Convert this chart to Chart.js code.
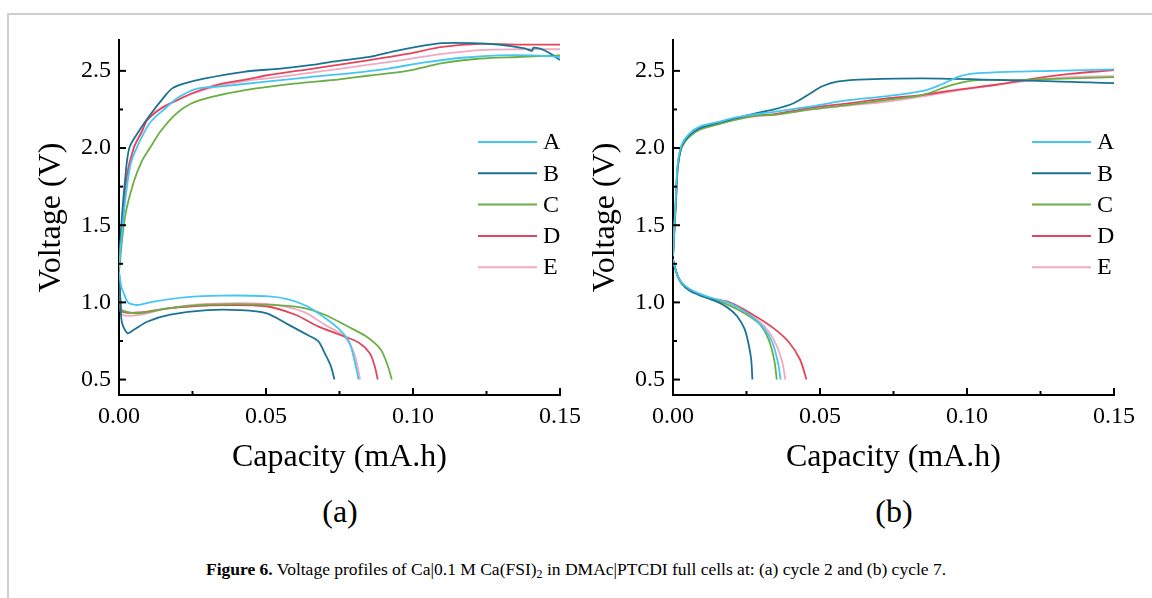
<!DOCTYPE html>
<html>
<head>
<meta charset="utf-8">
<script src="https://cdn.jsdelivr.net/npm/chart.js@4.4.0/dist/chart.umd.min.js"></script>
<style>
  body { margin: 0; width: 1152px; height: 598px; background: #fff; position: relative; overflow: hidden;
         font-family: "Liberation Serif", "Times New Roman", serif; color: #000; }
  .frame { position: absolute; left: 7px; top: 13px; width: 1160px; height: 600px;
           border-left: 2px solid #cfcfcf; border-top: 2px solid #cfcfcf; }
  canvas { position: absolute; top: 0; }
  #panelA { left: 0; }
  #panelB { left: 554px; }
  .tag { position: absolute; top: 492px; width: 200px; text-align: center; font-size: 32px; line-height: 38px; }
  .caption { position: absolute; left: 0; width: 1152px; top: 558px; text-align: center; font-size: 17.5px; line-height: 22px; }
  .caption sub { font-size: 12px; vertical-align: -3px; line-height: 0; }
</style>
</head>
<body>
<div class="frame"></div>
<canvas id="panelA" width="598" height="480"></canvas>
<canvas id="panelB" width="598" height="480"></canvas>
<div class="tag" style="left:240px">(a)</div>
<div class="tag" style="left:794px">(b)</div>
<div class="caption"><b>Figure 6.</b> Voltage profiles of Ca|0.1 M Ca(FSI)<sub>2</sub> in DMAc|PTCDI full cells at: (a) cycle 2 and (b) cycle 7.</div>

<script>
const FONT = '"Liberation Serif", "Times New Roman", serif';
Chart.defaults.font.family = FONT;
Chart.defaults.color = '#000';

const seriesNames = ['A', 'B', 'C', 'D', 'E'];
const seriesColors = ['#45c6f2', '#1b7393', '#6aae45', '#e2465b', '#f0a9c2'];

const xTickValues = [0, 0.05, 0.10, 0.15];
const xMinorValues = [0.025, 0.075, 0.125];
const yTickValues = [0.5, 1.0, 1.5, 2.0, 2.5];
const yMinorValues = [0.75, 1.25, 1.75, 2.25];

// cycle 2 - charge  [capacity mA.h, voltage V]
const cyc2ChargeA = [[0,1.22],[0.001,1.45],[0.0025,1.72],[0.004,1.9],[0.006,2.0],[0.008,2.08],[0.0108,2.17],[0.0153,2.25],[0.0204,2.33],[0.0266,2.385],[0.035,2.40],[0.05,2.43],[0.065,2.46],[0.079,2.485],[0.0915,2.515],[0.104,2.555],[0.1167,2.585],[0.129,2.60],[0.1405,2.60],[0.15,2.59]];
const cyc2ChargeB = [[0,1.22],[0.0008,1.5],[0.002,1.78],[0.0035,2.0],[0.0068,2.11],[0.0108,2.22],[0.0153,2.33],[0.018,2.385],[0.022,2.417],[0.0289,2.45],[0.0425,2.494],[0.055,2.515],[0.065,2.537],[0.0727,2.56],[0.0852,2.59],[0.093,2.625],[0.104,2.665],[0.11,2.68],[0.12,2.68],[0.129,2.67],[0.138,2.645],[0.1405,2.63],[0.141,2.65],[0.145,2.63],[0.15,2.57]];
const cyc2ChargeC = [[0,1.2],[0.002,1.55],[0.005,1.78],[0.0079,1.92],[0.0105,2.0],[0.0142,2.11],[0.0193,2.22],[0.0244,2.287],[0.0312,2.33],[0.0425,2.374],[0.0595,2.417],[0.075,2.445],[0.0852,2.47],[0.098,2.50],[0.11,2.55],[0.123,2.58],[0.1355,2.59],[0.15,2.60]];
const cyc2ChargeD = [[0,1.22],[0.001,1.5],[0.0025,1.8],[0.005,2.0],[0.0079,2.11],[0.0096,2.18],[0.0142,2.255],[0.0198,2.31],[0.0255,2.36],[0.0334,2.41],[0.0448,2.45],[0.05,2.47],[0.066,2.515],[0.0852,2.57],[0.098,2.61],[0.11,2.655],[0.123,2.675],[0.1355,2.67],[0.15,2.67]];
const cyc2ChargeE = [[0,1.22],[0.001,1.5],[0.0025,1.8],[0.005,2.0],[0.0079,2.12],[0.0096,2.19],[0.0142,2.26],[0.0198,2.31],[0.0255,2.355],[0.0334,2.40],[0.0448,2.44],[0.05,2.45],[0.066,2.49],[0.0852,2.54],[0.098,2.575],[0.11,2.61],[0.123,2.635],[0.1355,2.64],[0.15,2.64]];

// cycle 2 - discharge
const cyc2DischA = [[0,1.2],[0.0008,1.1],[0.0016,1.06],[0.003,1.0],[0.005,0.985],[0.0073,0.985],[0.0123,1.007],[0.0224,1.033],[0.035,1.044],[0.05,1.04],[0.0576,1.02],[0.064,0.975],[0.07,0.9],[0.0752,0.82],[0.0784,0.74],[0.08,0.63],[0.0815,0.5]];
const cyc2DischB = [[0,1.2],[0.0005,1.0],[0.001,0.87],[0.0029,0.80],[0.0048,0.82],[0.0098,0.876],[0.0174,0.92],[0.03,0.95],[0.041,0.95],[0.05,0.93],[0.0576,0.856],[0.064,0.79],[0.0677,0.75],[0.07,0.67],[0.072,0.59],[0.0733,0.5]];
const cyc2DischC = [[0,1.2],[0.0005,1.0],[0.001,0.95],[0.0073,0.93],[0.016,0.96],[0.03,0.985],[0.05,0.985],[0.0626,0.965],[0.07,0.92],[0.0777,0.845],[0.084,0.78],[0.089,0.695],[0.0915,0.585],[0.0928,0.5]];
const cyc2DischD = [[0,1.2],[0.0005,1.0],[0.001,0.94],[0.0073,0.935],[0.016,0.96],[0.03,0.98],[0.05,0.975],[0.06,0.92],[0.0677,0.845],[0.0752,0.79],[0.0815,0.74],[0.0853,0.67],[0.087,0.585],[0.088,0.5]];
const cyc2DischE = [[0,1.2],[0.0005,1.0],[0.001,0.92],[0.0073,0.92],[0.016,0.96],[0.03,0.99],[0.05,0.99],[0.0626,0.94],[0.07,0.855],[0.0765,0.78],[0.08,0.67],[0.082,0.5]];

// cycle 7 - charge
const cyc7ChargeA = [[0,1.3],[0.0004,1.47],[0.001,1.7],[0.0016,1.9],[0.0029,2.02],[0.0054,2.09],[0.0092,2.14],[0.0155,2.17],[0.0218,2.2],[0.0281,2.22],[0.0344,2.235],[0.047,2.27],[0.0596,2.31],[0.0722,2.335],[0.085,2.37],[0.091,2.41],[0.0975,2.465],[0.1037,2.485],[0.116,2.495],[0.129,2.50],[0.15,2.51]];
const cyc7ChargeB = [[0,1.3],[0.0004,1.45],[0.001,1.67],[0.0016,1.88],[0.0029,2.01],[0.0054,2.08],[0.0092,2.13],[0.0155,2.165],[0.0218,2.195],[0.0281,2.225],[0.0344,2.25],[0.041,2.29],[0.046,2.345],[0.0508,2.40],[0.0558,2.43],[0.066,2.445],[0.091,2.45],[0.1416,2.425],[0.15,2.42]];
const cyc7ChargeC = [[0,1.3],[0.0004,1.44],[0.001,1.65],[0.0016,1.86],[0.0029,2.0],[0.0054,2.07],[0.0092,2.12],[0.0155,2.155],[0.0218,2.185],[0.0281,2.21],[0.0344,2.215],[0.047,2.25],[0.0596,2.28],[0.0722,2.31],[0.085,2.345],[0.095,2.41],[0.1037,2.44],[0.116,2.44],[0.15,2.46]];
const cyc7ChargeD = [[0,1.3],[0.0004,1.45],[0.001,1.67],[0.0016,1.88],[0.0029,2.01],[0.0054,2.08],[0.0092,2.125],[0.0155,2.16],[0.0218,2.19],[0.0281,2.21],[0.0344,2.22],[0.047,2.26],[0.0596,2.29],[0.0722,2.32],[0.085,2.345],[0.0975,2.38],[0.11,2.41],[0.1227,2.45],[0.135,2.48],[0.15,2.505]];
const cyc7ChargeE = [[0,1.3],[0.0004,1.45],[0.001,1.66],[0.0016,1.87],[0.0029,2.0],[0.0054,2.075],[0.0092,2.12],[0.0155,2.155],[0.0218,2.185],[0.0281,2.205],[0.0344,2.215],[0.047,2.25],[0.0596,2.275],[0.0722,2.30],[0.085,2.335],[0.0975,2.375],[0.11,2.41],[0.1227,2.44],[0.135,2.46],[0.15,2.465]];

// cycle 7 - discharge
const cyc7DischA = [[0,1.28],[0.0005,1.24],[0.0016,1.17],[0.0029,1.13],[0.0054,1.09],[0.0092,1.055],[0.013,1.03],[0.0193,0.995],[0.0256,0.925],[0.0306,0.84],[0.0338,0.74],[0.0357,0.61],[0.0366,0.5]];
const cyc7DischB = [[0,1.28],[0.0005,1.24],[0.0016,1.17],[0.0029,1.125],[0.0054,1.08],[0.0092,1.045],[0.013,1.02],[0.0155,1.0],[0.0193,0.956],[0.0218,0.91],[0.0243,0.83],[0.0256,0.74],[0.0266,0.63],[0.027,0.5]];
const cyc7DischC = [[0,1.28],[0.0005,1.24],[0.0016,1.17],[0.0029,1.125],[0.0054,1.08],[0.0092,1.045],[0.013,1.02],[0.018,0.99],[0.0243,0.93],[0.0294,0.86],[0.0325,0.76],[0.0344,0.63],[0.0353,0.5]];
const cyc7DischD = [[0,1.28],[0.0005,1.24],[0.0016,1.17],[0.0029,1.13],[0.0054,1.085],[0.0092,1.05],[0.013,1.025],[0.0193,1.0],[0.0268,0.925],[0.0344,0.83],[0.0395,0.74],[0.0432,0.63],[0.0454,0.5]];
const cyc7DischE = [[0,1.28],[0.0005,1.24],[0.0016,1.17],[0.0029,1.13],[0.0054,1.085],[0.0092,1.05],[0.013,1.025],[0.0193,0.995],[0.0256,0.93],[0.0313,0.84],[0.035,0.73],[0.0372,0.61],[0.0382,0.5]];

// ticks pointing into the plot
const innerTicks = {
    id: 'innerTicks',
    afterDraw(chart) {
        const { ctx, chartArea: a, scales: { x, y } } = chart;
        ctx.save();
        ctx.strokeStyle = '#000';
        ctx.lineWidth = 2;
        const seg = (x1, y1, x2, y2) => { ctx.beginPath(); ctx.moveTo(x1, y1); ctx.lineTo(x2, y2); ctx.stroke(); };
        xTickValues.forEach(v => { const p = x.getPixelForValue(v); seg(p, a.bottom, p, a.bottom - 7); });
        xMinorValues.forEach(v => { const p = x.getPixelForValue(v); seg(p, a.bottom, p, a.bottom - 4); });
        yTickValues.forEach(v => { const p = y.getPixelForValue(v); seg(a.left, p, a.left + 7, p); });
        yMinorValues.forEach(v => { const p = y.getPixelForValue(v); seg(a.left, p, a.left + 4, p); });
        ctx.restore();
    }
};

// legend drawn inside the plot, right side
const insetLegend = {
    id: 'insetLegend',
    afterDraw(chart, args, opts) {
        const { ctx } = chart;
        ctx.save();
        ctx.lineWidth = 2;
        ctx.font = '24px ' + FONT;
        ctx.fillStyle = '#000';
        ctx.textBaseline = 'middle';
        seriesNames.forEach((name, i) => {
            const yy = opts.top + i * opts.step;
            ctx.strokeStyle = seriesColors[i];
            ctx.beginPath();
            ctx.moveTo(opts.lineFrom, yy);
            ctx.lineTo(opts.lineTo, yy);
            ctx.stroke();
            ctx.fillText(name, opts.textX, yy + 1);
        });
        ctx.restore();
    }
};

function makePanel(canvasId, chargeSets, dischargeSets) {
    const datasets = [];
    [chargeSets, dischargeSets].forEach(group => {
        group.forEach((pts, i) => {
            datasets.push({
                label: seriesNames[i],
                data: pts.map(p => ({ x: p[0], y: p[1] })),
                borderColor: seriesColors[i],
                backgroundColor: seriesColors[i],
                showLine: true,
                pointRadius: 0,
                borderWidth: 1.8,
                tension: 0.3
            });
        });
    });

    return new Chart(document.getElementById(canvasId), {
        type: 'scatter',
        data: { datasets: datasets },
        options: {
            responsive: false,
            animation: false,
            layout: { padding: { left: 32, top: 40, right: 38, bottom: 3 } },
            plugins: {
                legend: { display: false },
                tooltip: { enabled: false },
                insetLegend: { lineFrom: 478, lineTo: 537, textX: 543, top: 142, step: 31.3 }
            },
            scales: {
                x: {
                    type: 'linear',
                    min: 0,
                    max: 0.15,
                    afterBuildTicks: s => { s.ticks = xTickValues.map(v => ({ value: v })); },
                    afterFit: s => { s.height = 82; },
                    grid: { display: false, drawTicks: false },
                    border: { display: true, color: '#000', width: 2 },
                    ticks: {
                        color: '#000', padding: 7, maxRotation: 0, autoSkip: false,
                        font: { family: 'Liberation Serif', size: 24 },
                        callback: v => Number(v).toFixed(2)
                    },
                    title: {
                        display: true, text: 'Capacity (mA.h)', color: '#000',
                        font: { family: 'Liberation Serif', size: 32 }, padding: { top: 0, bottom: 0 }
                    }
                },
                y: {
                    type: 'linear',
                    min: 0.4,
                    max: 2.7,
                    afterBuildTicks: s => { s.ticks = yTickValues.map(v => ({ value: v })); },
                    afterFit: s => { s.width = 87; },
                    grid: { display: false, drawTicks: false },
                    border: { display: true, color: '#000', width: 2 },
                    ticks: {
                        color: '#000', padding: 8, autoSkip: false,
                        font: { family: 'Liberation Serif', size: 24 },
                        callback: v => Number(v).toFixed(1)
                    },
                    title: {
                        display: true, text: 'Voltage (V)', color: '#000',
                        font: { family: 'Liberation Serif', size: 32 }, padding: { top: 0, bottom: 0 }
                    }
                }
            }
        },
        plugins: [innerTicks, insetLegend]
    });
}

makePanel('panelA',
    [cyc2ChargeA, cyc2ChargeB, cyc2ChargeC, cyc2ChargeD, cyc2ChargeE],
    [cyc2DischA, cyc2DischB, cyc2DischC, cyc2DischD, cyc2DischE]);

makePanel('panelB',
    [cyc7ChargeA, cyc7ChargeB, cyc7ChargeC, cyc7ChargeD, cyc7ChargeE],
    [cyc7DischA, cyc7DischB, cyc7DischC, cyc7DischD, cyc7DischE]);
</script>
</body>
</html>
